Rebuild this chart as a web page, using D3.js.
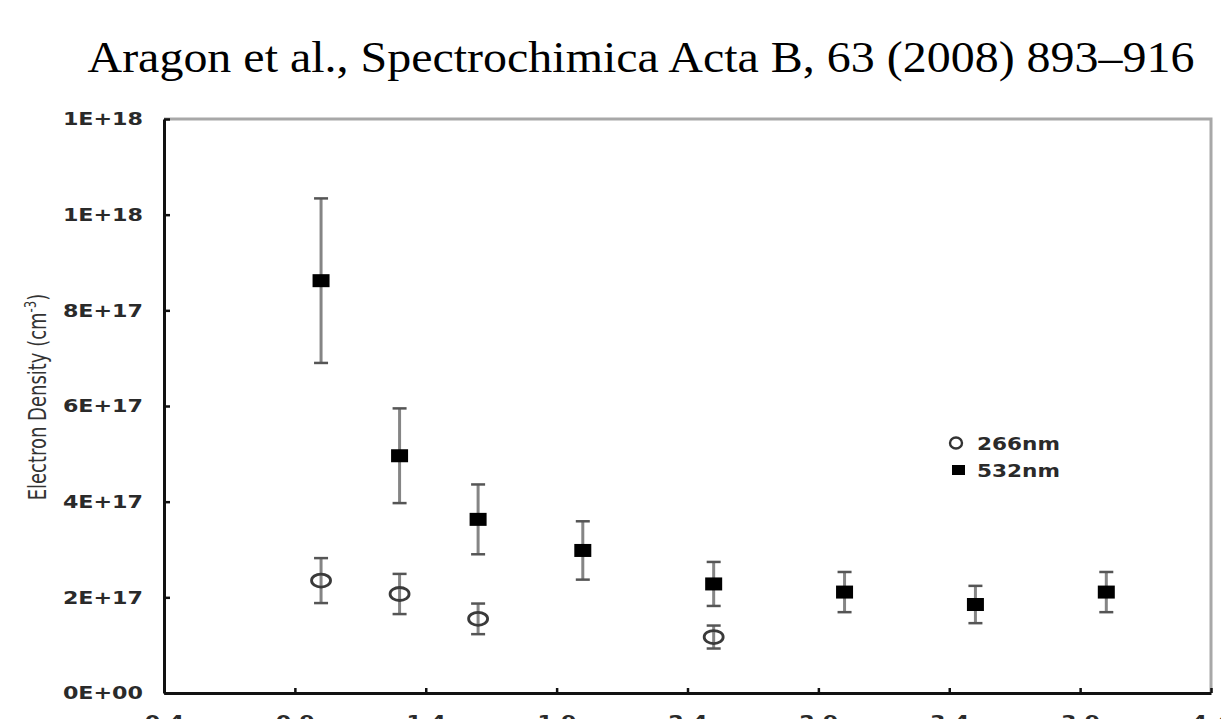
<!DOCTYPE html>
<html>
<head>
<meta charset="utf-8">
<script src="https://cdn.jsdelivr.net/npm/d3@7"></script>
<style>
  html, body { margin: 0; padding: 0; background: #fff; overflow: hidden; }
  svg { display: block; }
</style>
</head>
<body>
<script>
// data
const xTicks = [0.4, 0.9, 1.4, 1.9, 2.4, 2.9, 3.4, 3.9, 4.4];
const xTickLabels = ["0.4", "0.9", "1.4", "1.9", "2.4", "2.9", "3.4", "3.9", "4.4"];
const yTicks = [0, 2e17, 4e17, 6e17, 8e17, 1e18, 1.2e18];
const yTickLabels = ["0E+00", "2E+17", "4E+17", "6E+17", "8E+17", "1E+18", "1E+18"];

const x266 = [1.0, 1.3, 1.6, 2.5];
const y266 = [2.35e17, 2.07e17, 1.55e17, 1.17e17];
const err266 = [0.47e17, 0.42e17, 0.32e17, 0.24e17];

const x532 = [1.0, 1.3, 1.6, 2.0, 2.5, 3.0, 3.5, 4.0];
const y532 = [8.62e17, 4.96e17, 3.63e17, 2.98e17, 2.28e17, 2.11e17, 1.85e17, 2.11e17];
const err532 = [1.72e17, 0.99e17, 0.73e17, 0.61e17, 0.46e17, 0.42e17, 0.39e17, 0.42e17];

const seriesNames = ["266nm", "532nm"];
const title = "Aragon et al., Spectrochimica Acta B, 63 (2008) 893\u2013916";
const yTitle = "Electron Density (cm";

// layout
const width = 1221, height = 719;
const margin = {top: 119, right: 9, bottom: 26, left: 164};
const stretch = 1.2;   // the source image is stretched sideways

const svg = d3.select("body").append("svg")
    .attr("width", width)
    .attr("height", height)
    .attr("viewBox", [0, 0, width, height]);

const xScale = d3.scaleLinear([0.4, 4.4], [margin.left, width - margin.right - 1]);
const yScale = d3.scaleLinear([0, 1.2e18], [height - margin.bottom, margin.top]);

// title
svg.append("text")
    .attr("x", 641)
    .attr("y", 72)
    .attr("text-anchor", "middle")
    .attr("font-family", "Liberation Serif, Times New Roman, serif")
    .attr("font-size", 44)
    .attr("textLength", 1107)
    .attr("lengthAdjust", "spacingAndGlyphs")
    .attr("fill", "#000")
    .text(title);

// grey top and right frame
svg.append("path")
    .attr("d", `M${margin.left},${yScale(1.2e18)}H${xScale(4.4)}V${yScale(0)}`)
    .attr("fill", "none")
    .attr("stroke", "#a8a8a8")
    .attr("stroke-width", 3);

// y axis
svg.append("g")
    .attr("transform", `translate(${margin.left},0)`)
    .call(d3.axisLeft(yScale)
        .tickValues(yTicks)
        .tickFormat((d, i) => yTickLabels[i])
        .tickSizeInner(-6)
        .tickSizeOuter(0))
    .call(g => g.select(".domain").attr("stroke", "#111").attr("stroke-width", 3))
    .call(g => g.selectAll(".tick line").attr("stroke", "#111").attr("stroke-width", 2.5))
    .call(g => g.selectAll(".tick text")
        .attr("x", -21 / stretch)
        .attr("transform", `scale(${stretch},1)`)
        .attr("font-family", "DejaVu Sans, Verdana, sans-serif")
        .attr("font-weight", "bold")
        .attr("font-size", 18.5)
        .attr("fill", "#2a2a2a"));

// x axis (labels are cut by the bottom edge, as in the source)
svg.append("g")
    .attr("transform", `translate(0,${height - margin.bottom})`)
    .call(d3.axisBottom(xScale)
        .tickValues(xTicks)
        .tickFormat((d, i) => xTickLabels[i])
        .tickSizeInner(-5)
        .tickSizeOuter(0)
        .tickPadding(22))
    .call(g => g.select(".domain").attr("stroke", "#111").attr("stroke-width", 3))
    .call(g => g.selectAll(".tick line").attr("stroke", "#111").attr("stroke-width", 2.5))
    .call(g => g.selectAll(".tick text")
        .attr("transform", `scale(${stretch},1)`)
        .attr("font-family", "DejaVu Sans, Verdana, sans-serif")
        .attr("font-weight", "bold")
        .attr("font-size", 18.5)
        .attr("fill", "#2a2a2a"));

// y axis title
const yt = svg.append("text")
    .attr("transform", `translate(46,397) scale(${stretch},1) rotate(-90)`)
    .attr("text-anchor", "middle")
    .attr("font-family", "DejaVu Sans Condensed, DejaVu Sans, sans-serif")
    .attr("font-stretch", "condensed")
    .attr("font-size", 20)
    .attr("fill", "#333");
yt.append("tspan").text(yTitle);
yt.append("tspan").attr("font-size", 13).attr("dy", -8).text("-3");
yt.append("tspan").attr("dy", 8).text(")");

// error bars
function errorBars(xs, ys, es)
{
    const g = svg.append("g");
    g.selectAll("line.bar")
        .data(xs)
        .join("line")
        .attr("class", "bar")
        .attr("x1", d => xScale(d))
        .attr("x2", d => xScale(d))
        .attr("y1", (d, i) => yScale(ys[i] + es[i]))
        .attr("y2", (d, i) => yScale(ys[i] - es[i]))
        .attr("stroke", "#858585")
        .attr("stroke-width", 3);
    for (const sign of [1, -1])
    {
        g.selectAll(null)
            .data(xs)
            .join("line")
            .attr("x1", d => xScale(d) - 7)
            .attr("x2", d => xScale(d) + 7)
            .attr("y1", (d, i) => yScale(ys[i] + sign * es[i]))
            .attr("y2", (d, i) => yScale(ys[i] + sign * es[i]))
            .attr("stroke", "#555")
            .attr("stroke-width", 2.5);
    }
}
errorBars(x266, y266, err266);
errorBars(x532, y532, err532);

// 266nm open markers
svg.append("g")
    .selectAll("ellipse")
    .data(x266)
    .join("ellipse")
    .attr("cx", d => xScale(d))
    .attr("cy", (d, i) => yScale(y266[i]))
    .attr("rx", 9.5)
    .attr("ry", 6.5)
    .attr("fill", "none")
    .attr("stroke", "#3a3a3a")
    .attr("stroke-width", 2.8);

// 532nm filled markers
svg.append("g")
    .selectAll("rect")
    .data(x532)
    .join("rect")
    .attr("x", d => xScale(d) - 8.5)
    .attr("y", (d, i) => yScale(y532[i]) - 6.5)
    .attr("width", 17)
    .attr("height", 13)
    .attr("fill", "#000");

// legend
const legend = svg.append("g").attr("transform", "translate(956,443)");
legend.append("ellipse")
    .attr("rx", 6).attr("ry", 5.5)
    .attr("fill", "none").attr("stroke", "#333").attr("stroke-width", 2.4);
legend.append("rect")
    .attr("x", -4).attr("y", 22).attr("width", 13).attr("height", 10)
    .attr("fill", "#000");
legend.selectAll("text")
    .data(seriesNames)
    .join("text")
    .attr("transform", (d, i) => `translate(21,${7 + i * 27}) scale(${stretch},1)`)
    .attr("font-family", "DejaVu Sans, Verdana, sans-serif")
    .attr("font-weight", "bold")
    .attr("font-size", 18)
    .attr("fill", "#2a2a2a")
    .text(d => d);
</script>
</body>
</html>
